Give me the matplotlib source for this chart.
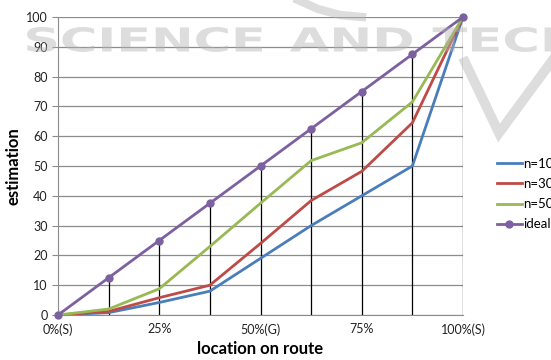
import matplotlib
matplotlib.use("Agg")
import matplotlib.pyplot as plt
from matplotlib.textpath import TextPath
from matplotlib.patches import PathPatch
from matplotlib.font_manager import FontProperties
from matplotlib.transforms import Affine2D
from matplotlib.lines import Line2D

positions = [0, 1, 2, 3, 4, 5, 6, 7, 8]
tick_pos = [0, 2, 4, 6, 8]
tick_labels = ["0%(S)", "25%", "50%(G)", "75%", "100%(S)"]
n10 = [0, 0.8, 4.2, 8.0, 19.0, 30.0, 40.0, 50.0, 100]
n30 = [0, 1.2, 5.8, 10.0, 24.0, 38.4, 48.2, 64.5, 100]
n50 = [0, 2.0, 8.8, 23.0, 37.5, 51.8, 57.8, 71.5, 100]
ideal = [0, 12.5, 25, 37.5, 50, 62.5, 75, 87.5, 100]

W, H = 551, 360
plt.rcParams['font.family'] = ['Lato', 'DejaVu Sans']
fig = plt.figure(figsize=(W/100, H/100), dpi=100)
ax = fig.add_axes([58/W, 1-315/H, (463-58)/W, (315-17)/H])

ax.set_xlim(0, 8)
ax.set_ylim(0, 100)
ax.set_yticks(range(0, 101, 10))
ax.yaxis.grid(True, color='#8c8c8c', lw=0.9)
ax.set_axisbelow(True)

ax.vlines(positions, 0, ideal, colors='black', lw=0.9, zorder=2)

ax.plot(positions, n10, color='#4A7EBB', lw=2, label='n=10', zorder=3)
ax.plot(positions, n30, color='#BE4B48', lw=2, label='n=30', zorder=3)
ax.plot(positions, n50, color='#98B954', lw=2, label='n=50', zorder=3)
ax.plot(positions, ideal, color='#7D60A0', lw=2, marker='o', ms=5, label='ideal', zorder=4, clip_on=False)

ax.set_xticks(tick_pos)
ax.set_xticklabels(tick_labels)
ax.tick_params(axis='x', length=0, pad=6, labelsize=9, colors='#222222')
ax.tick_params(axis='y', length=4, color='#8c8c8c', labelsize=9, colors='#222222')
for s in ['top', 'right']:
    ax.spines[s].set_visible(False)
for s in ['left', 'bottom']:
    ax.spines[s].set_color('#8c8c8c')

ax.set_xlabel('location on route', fontsize=12, fontweight='bold', labelpad=4)
ax.set_ylabel('estimation', fontsize=12, fontweight='bold', labelpad=3)

leg = ax.legend(loc='upper left', bbox_to_anchor=(1.07, 0.545), frameon=False,
                fontsize=9.5, handlelength=1.9, handletextpad=0.1, labelspacing=0.62,
                borderaxespad=0)

# faint publisher watermark
wm_color = '#b4b4b4'
wm_alpha = 0.45
fp = FontProperties(family='DejaVu Sans', weight='bold')

def add_stretched(text, x0, x1, ytop, ybot):
    tp = TextPath((0, 0), text, size=100, prop=fp)
    ext = tp.get_extents()
    sx = (x1 - x0) / ext.width
    sy = (ybot - ytop) / ext.height
    tr = Affine2D().translate(-ext.x0, -ext.y0).scale(sx, sy).translate(x0, H - ybot)
    path = tr.transform_path(tp)
    patch = PathPatch(path, facecolor=wm_color, edgecolor='none', alpha=wm_alpha,
                      transform=None, zorder=5)
    fig.add_artist(patch)

add_stretched('SCIENCE', 27, 262, 27, 52)
add_stretched('AND TECH', 290, 578, 27, 52)

fig.add_artist(Line2D([465/W, 499/W, 560/W], [1-62/H, 1-133/H, 1-50/H], color=wm_color,
                      alpha=wm_alpha, lw=7, solid_joinstyle='miter', zorder=5))
fig.add_artist(Line2D([298/W, 318/W, 340/W, 362/W], [1.0, 1-9/H, 1-15/H, 1-17/H], color=wm_color,
                      alpha=wm_alpha, lw=6, zorder=5))

fig.savefig('out.png', dpi=100)
